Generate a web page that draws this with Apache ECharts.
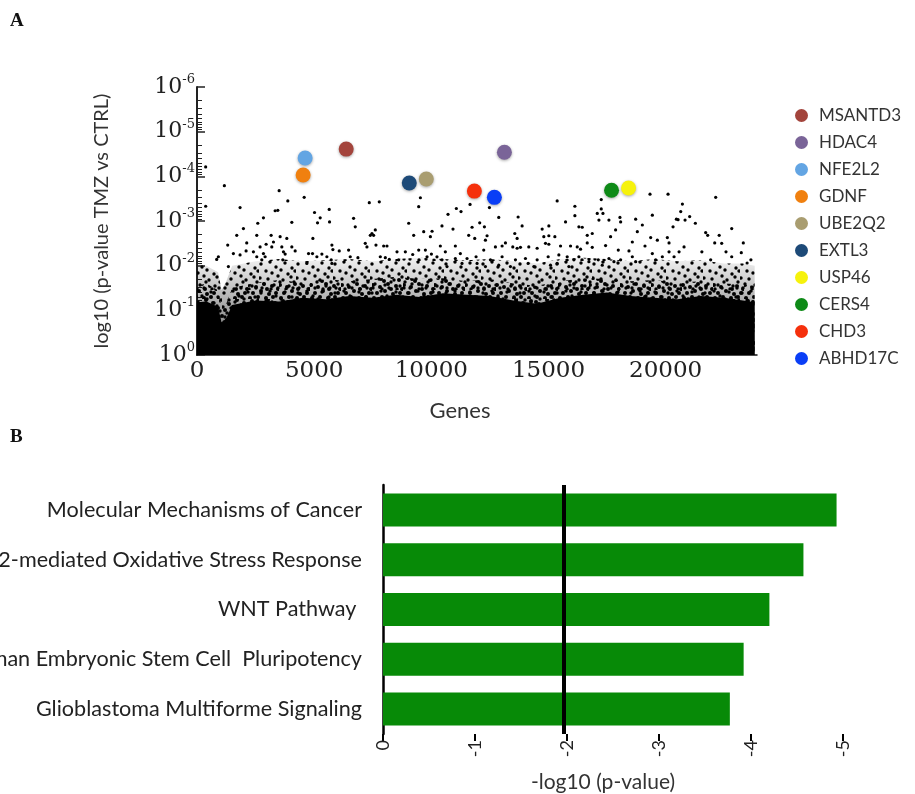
<!DOCTYPE html>
<html><head><meta charset="utf-8">
<script src="https://cdn.jsdelivr.net/npm/echarts@6/dist/echarts.min.js"></script>
<style>html,body{margin:0;padding:0;background:#fff}#c{width:915px;height:794px}</style>
</head><body><div id="c"></div>
<script>
// ---------- Panel A data (x = gene index, y = -log10 p) ----------
const geneTicks = [0, 5000, 10000, 15000, 20000];
const yExponents = [0, 1, 2, 3, 4, 5, 6];            // tick labels 10^0 ... 10^-6
const highlightGenes = ['MSANTD3','HDAC4','NFE2L2','GDNF','UBE2Q2','EXTL3','USP46','CERS4','CHD3','ABHD17C'];
const highlightIndex = [6368, 13120, 4615, 4530, 9786, 9060, 18419, 17692, 11838, 12692];
const highlightNlp   = [4.61, 4.54, 4.41, 4.03, 3.94, 3.85, 3.74, 3.69, 3.67, 3.53];
const highlightColors = ['#a3443c','#7a6498','#63a5e3','#f0800f','#a99d70','#1d4a78','#f6f20c','#0e8a17','#f5300c','#0a3ef6'];

// envelopes of the solid black mass, the dense mass and the speckle
const envGenes  = [0,400,900,1050,1250,1500,2500,3500,4500,5500,6500,7500,8500,9500,10500,11500,12500,13500,14500,15500,16500,17500,18500,19500,20500,21500,22500,23300,23800];
const solidTop  = [1.18,1.20,1.08,0.72,0.82,1.12,1.22,1.20,1.28,1.25,1.32,1.28,1.35,1.30,1.38,1.35,1.32,1.22,1.15,1.28,1.35,1.40,1.32,1.28,1.25,1.32,1.28,1.22,1.18];
const denseTop  = [1.55,1.60,1.45,1.05,1.15,1.50,1.62,1.68,1.62,1.70,1.65,1.70,1.75,1.70,1.72,1.65,1.70,1.60,1.55,1.65,1.72,1.70,1.65,1.68,1.62,1.65,1.60,1.58,1.55];
const speckTop  = [2.05,2.00,1.85,1.45,1.65,2.00,2.10,2.15,2.10,2.12,2.15,2.10,2.15,2.18,2.15,2.12,2.15,2.10,2.05,2.15,2.18,2.15,2.10,2.15,2.10,2.12,2.05,2.05,2.00];

// individual genes visible above the dense mass
const sparseGenes = [
[370,4.21],[370,3.33],[1168,3.79],[3506,3.68],[3876,3.45],[4574,3.53],[1838,3.30],[3335,3.23],[3449,3.24],[5643,3.26],[5016,3.19],[5258,3.07],[4047,2.97],[2836,3.07],[2594,2.95],[1981,2.83],[1696,2.68],[2123,2.51],[1311,2.46],[2551,2.68],[5144,2.96],[5657,2.98],[6683,3.06],[6754,2.87],[7353,3.41],[7780,3.43],[7610,2.80],[7538,2.68],[9035,2.95],[9462,3.32],[9534,3.52],[9676,2.76],[10032,2.77],[9248,2.68],[9961,2.65],[4945,2.61],[3548,2.65],[3833,2.61],[3164,2.68],[3263,2.53],[2950,2.48],[2693,2.42],[2408,2.31],[2551,2.20],[2836,2.27],[2907,2.20],[2765,2.13],[2095,2.33],[1553,2.27],[1838,2.24],[912,2.20],[841,2.14],[1340,1.98],[3192,2.42],[3620,2.42],[3691,2.31],[3762,2.26],[4047,2.42],[4190,2.33],[3663,2.13],[4760,2.27],[4930,2.27],[5116,2.20],[5330,2.26],[5757,2.46],[5800,2.36],[5543,2.20],[5728,2.13],[6071,2.33],[6470,2.35],[6540,2.20],[6868,2.18],[7182,2.50],[7253,2.42],[7396,2.68],[7467,2.72],[7638,2.46],[7966,2.44],[8108,2.44],[7823,2.20],[8037,2.18],[8208,2.14],[8536,2.31],[8607,2.13],[8892,2.31],[9206,2.25],[9462,2.35],[9747,2.35],[9818,2.20],[10004,2.26],[4688,2.05],[5757,2.05],
[15372,3.45],[17253,3.48],[19334,3.60],[20103,3.60],[20716,3.38],[20645,3.21],[20460,3.04],[20830,3.02],[11653,3.37],[12480,3.30],[12879,3.08],[13705,3.09],[13876,2.89],[11069,3.28],[11268,3.21],[10713,3.15],[10456,2.89],[10926,2.82],[11739,2.86],[12066,2.96],[12266,2.87],[11596,2.68],[12380,2.67],[12309,2.57],[11853,2.61],[13563,2.72],[13662,2.61],[13021,2.44],[14731,2.82],[15016,2.89],[14802,2.65],[15273,2.65],[15729,2.98],[16128,3.33],[16128,3.12],[16299,2.87],[16441,2.86],[16655,2.68],[16869,2.72],[17154,3.02],[17253,3.27],[17082,3.17],[17325,3.17],[17581,3.02],[18051,3.08],[18080,2.98],[18721,3.04],[17866,2.80],[18792,2.76],[19006,2.91],[19433,3.13],[20074,2.63],[20146,2.51],[20317,2.87],[20531,3.03],[19362,2.63],[19647,2.57],[19120,2.44],[18579,2.53],[18436,2.33],[17980,2.35],[17438,2.45],[17652,2.65],[16869,2.41],[16655,2.51],[16227,2.42],[16370,2.37],[15942,2.44],[15515,2.44],[15016,2.67],[14873,2.50],[15016,2.48],
[14517,2.39],[14161,2.42],[13805,2.41],[13477,2.42],[13662,2.39],[13164,2.51],[12736,2.42],[12238,2.35],[11910,2.20],[11525,2.16],[11026,2.44],[11240,2.27],[10385,2.44],[10599,2.31],[10242,2.20],[10456,2.13],[20787,2.42],[20574,2.31],[20146,2.31],[20360,2.20],[19860,2.20],[19433,2.27],[19576,2.13],[18579,2.20],[18721,2.09],[18080,2.13],[17581,2.16],[17795,2.09],[17125,2.13],[17296,2.01],[16726,2.09],[16085,2.13],[16299,2.20],[15800,2.20],[15871,1.98],[15444,2.24],[15372,2.05],[14987,2.20],[15087,2.01],[14517,2.13],[14375,1.98],[14018,2.16],[14133,2.05],[13591,2.13],[13377,1.98],[13021,2.20],[12879,2.01],[12523,2.13],[12309,1.98],[11953,2.05],[11311,2.05],[11026,2.16],[10670,1.98],
[22137,3.53],[21709,2.74],[21795,2.68],[22286,2.68],[22821,2.83],[23230,2.29],[23640,2.13],[22095,2.51],[22393,2.50],[23316,2.51],[21547,2.31],[21923,2.13],[22577,2.31],[22821,2.20],[23478,2.06],[21269,2.95],[21026,3.10]
];

// ---------- Panel B data ----------
const pathways = ['Molecular Mechanisms of Cancer','NRF2-mediated Oxidative Stress Response','WNT Pathway ','Human Embryonic Stem Cell  Pluripotency','Glioblastoma Multiforme Signaling'];
const pathwayValues = [-4.93, -4.57, -4.20, -3.92, -3.77];
const thresholdValue = -1.96;
const bTicks = [0, -1, -2, -3, -4, -5];

// minor log ticks on the p-value axis
const minorTicks = [];
for (let n = 0; n < 6; n++) for (let k = 2; k <= 9; k++) minorTicks.push(n + 1 - Math.log10(k));

// speckle texture tiles (style only): fixed hand-placed dots
function tile(w, h, dots, r) {
  const c = document.createElement('canvas'); c.width = w; c.height = h;
  const g = c.getContext('2d'); g.fillStyle = '#000';
  dots.forEach(([x, y]) => { g.beginPath(); g.arc(x, y, r, 0, Math.PI * 2); g.fill(); });
  return c;
}
const tileA = tile(37, 29, [[2,3],[11,1],[17,6],[26,2],[33,7],[7,10],[13,12],[22,9],[29,13],[36,10],[1,17],[9,18],[19,15],[24,19],[32,16],[5,23],[15,24],[21,21],[30,25],[35,21],[3,27],[12,28],[19,27],[27,28],[34,27]], 1.7);
const tileB = tile(31, 23, [[4,2],[12,5],[20,1],[27,4],[1,9],[8,11],[16,8],[24,10],[30,13],[5,17],[13,15],[21,18],[28,17],[2,22],[10,21],[18,22],[25,21],[9,3],[19,13]], 2.0);

const sans = 'Lato';
const serif = 'DejaVu Serif';
const env = arr => envGenes.map((g, i) => [g, arr[i]]);

const series = [
  { type:'line', xAxisIndex:0, yAxisIndex:0, data: env(speckTop), symbol:'none', lineStyle:{width:0}, silent:true, z:1,
    areaStyle:{ opacity:1, color:{type:'linear',x:0,y:0,x2:0,y2:1,colorStops:[
      {offset:0,color:'rgba(0,0,0,0.05)'},{offset:0.5,color:'rgba(0,0,0,0.35)'},{offset:1,color:'rgba(0,0,0,0.6)'}]}}},
  { type:'line', xAxisIndex:0, yAxisIndex:0, data: env(speckTop), symbol:'none', lineStyle:{width:0}, silent:true, z:2,
    areaStyle:{ opacity:1, color:{image: tileA, repeat:'repeat'} } },
  { type:'line', xAxisIndex:0, yAxisIndex:0, data: env(denseTop), symbol:'none', lineStyle:{width:0}, silent:true, z:3,
    areaStyle:{ opacity:1, color:{image: tileB, repeat:'repeat'} } },
  { type:'line', xAxisIndex:0, yAxisIndex:0, data: env(solidTop), symbol:'none', lineStyle:{width:0}, silent:true, z:4,
    areaStyle:{ opacity:1, color:'#000'} },
  { type:'scatter', xAxisIndex:0, yAxisIndex:0, data: sparseGenes, symbolSize:3.2, itemStyle:{color:'#000', opacity:1}, silent:true, z:5 }
];
highlightGenes.forEach((name,i)=>{
  series.push({ type:'scatter', name, xAxisIndex:0, yAxisIndex:0, data:[[highlightIndex[i], highlightNlp[i]]],
    symbolSize:15, z:10, itemStyle:{color:highlightColors[i], opacity:1, shadowBlur:3, shadowColor:'rgba(0,0,0,0.35)', shadowOffsetY:1}});
});
series.push({ type:'bar', xAxisIndex:1, yAxisIndex:2, data: pathwayValues, barWidth:33, itemStyle:{color:'#078a07'}, silent:true,
  markLine:{ silent:true, symbol:'none', label:{show:false}, lineStyle:{color:'#000', width:4, type:'solid'}, data:[{xAxis: thresholdValue}] }});

const chart = echarts.init(document.getElementById('c'));
chart.setOption({
  animation:false,
  backgroundColor:'#fff',
  graphic:[
    {type:'text', left:10, top:12, style:{text:'A', font:'bold 19px "Liberation Serif"', fill:'#111'}},
    {type:'text', left:10, top:428, style:{text:'B', font:'bold 19px "Liberation Serif"', fill:'#111'}}
  ],
  legend:{ orient:'vertical', left:790, top:102, itemWidth:13, itemHeight:13, itemGap:10, icon:'circle', selectedMode:false,
    data: highlightGenes, textStyle:{fontFamily:sans, fontSize:17, color:'#333', padding:[0,0,0,6]} },
  grid:[
    {left:197, top:87, width:560, height:268, outerBoundsMode:'none', containLabel:false},
    {left:383, top:485, width:460, height:249, outerBoundsMode:'none', containLabel:false}
  ],
  xAxis:[
    { gridIndex:0, type:'value', min:0, max:23900, interval:5000, splitLine:{show:false},
      axisLine:{lineStyle:{color:'#111', width:1.5}}, axisTick:{show:false},
      axisLabel:{fontFamily:serif, fontSize:23, color:'#222', margin:5, showMaxLabel:false,
        formatter:v=> geneTicks.includes(v) ? String(v) : ''},
      name:'Genes', nameLocation:'middle', nameGap:45,
      nameTextStyle:{fontFamily:sans, fontSize:22, color:'#333', padding:[0,34,0,0]} },
    { gridIndex:1, type:'value', min:-5, max:0, interval:1, inverse:true, splitLine:{show:false},
      axisLine:{lineStyle:{color:'#000', width:2.5}}, axisTick:{show:true, length:7, lineStyle:{color:'#000', width:2}},
      axisLabel:{rotate:90, fontFamily:sans, fontSize:18, color:'#222', margin:6,
        formatter:v=> bTicks.includes(v) ? String(v) : ''},
      name:'-log10 (p-value)', nameLocation:'middle', nameGap:38,
      nameTextStyle:{fontFamily:sans, fontSize:21, color:'#333', padding:[0,20,0,0]} }
  ],
  yAxis:[
    { gridIndex:0, type:'value', min:0, max:6, interval:1, position:'left', splitLine:{show:false},
      axisLine:{lineStyle:{color:'#222', width:2}}, axisTick:{inside:true, length:8, lineStyle:{color:'#222', width:1.5}},
      axisLabel:{margin:2, formatter:v=> yExponents.includes(v) ? '{a|10}{b|' + (v===0 ? '0' : '-' + v) + '}' : '',
        rich:{ a:{fontFamily:serif, fontSize:22, color:'#222', lineHeight:28},
               b:{fontFamily:serif, fontSize:13, color:'#222', lineHeight:28, verticalAlign:'top'} } },
      name:'log10 (p-value TMZ vs CTRL)', nameLocation:'middle', nameGap:85,
      nameTextStyle:{fontFamily:sans, fontSize:20, color:'#333'} },
    { gridIndex:0, type:'value', min:0, max:6, position:'left', offset:0, splitLine:{show:false},
      axisLine:{show:false}, axisLabel:{show:false},
      axisTick:{inside:true, length:5, customValues:minorTicks, lineStyle:{color:'#222', width:1}} },
    { gridIndex:1, type:'category', data: pathways, inverse:true,
      axisLine:{lineStyle:{color:'#000', width:2.5}}, axisTick:{alignWithLabel:true, length:10, lineStyle:{color:'#000', width:2}},
      axisLabel:{fontFamily:sans, fontSize:21.6, color:'#222', margin:21} }
  ],
  series
});
</script></body></html>
